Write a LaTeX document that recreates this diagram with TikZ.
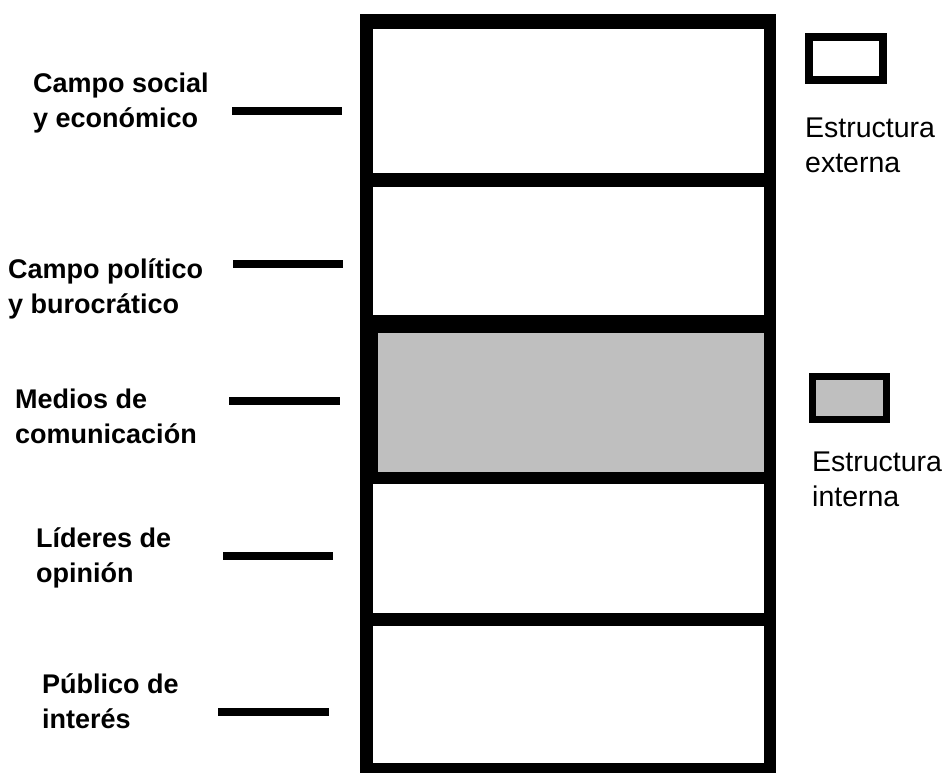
\documentclass[tikz,border=0pt]{standalone}
\usepackage{fontspec}
\setmainfont{Liberation Sans}
\begin{document}
\begin{tikzpicture}[x=1pt,y=-1pt,
    etiqueta/.style={anchor=base west,align=left,inner sep=0pt,font=\fontsize{27}{35}\selectfont\bfseries},
    leyenda/.style={anchor=base west,align=left,inner sep=0pt,font=\fontsize{28.5}{35}\selectfont},
    capa/.style={fill=white,inner sep=0pt,minimum width=391pt},
    muestra/.style={draw=black,inner sep=0pt,minimum width=74pt,minimum height=43pt},
    raya/.style={line width=7.5pt}]
    \useasboundingbox (0,0) rectangle (948,773);

    % structure
    \node[fill=black,inner sep=0pt,minimum width=416pt,minimum height=759pt] (marco) at (568,393.5) {};
    \node[capa,minimum height=144pt] (social) at (568.5,101) {};
    \node[capa,minimum height=128pt] (politico) at (568.5,251) {};
    \node[capa,fill=black!25,minimum width=386pt,minimum height=139pt] (medios) at (571,402.5) {};
    \node[capa,minimum height=129pt] (lideres) at (568.5,548.5) {};
    \node[capa,minimum height=137pt] (publico) at (568.5,694.5) {};

    % labels (base = last line)
    \node[etiqueta] (lsocial) at (33,128) {Campo social\\y económico};
    \node[etiqueta] (lpolitico) at (8,313) {Campo político\\y burocrático};
    \node[etiqueta] (lmedios) at (15,443) {Medios de\\comunicación};
    \node[etiqueta] (llideres) at (36,582) {Líderes de\\opinión};
    \node[etiqueta] (lpublico) at (42,728) {Público de\\interés};

    \foreach \y/\a/\b in {111/232/342,264/233/343,401/229/340,556/223/333,712/218/329}
      \draw[raya] (\a,\y) -- (\b,\y);

    % legend
    \node[muestra,line width=8pt,fill=white] (externa) at (846,58.5) {};
    \node[leyenda] (lexterna) at (805,172) {Estructura\\externa};
    \node[muestra,line width=7pt,fill=black!25] (interna) at (849.5,397.5) {};
    \node[leyenda] (linterna) at (812,506) {Estructura\\interna};
\end{tikzpicture}
\end{document}
